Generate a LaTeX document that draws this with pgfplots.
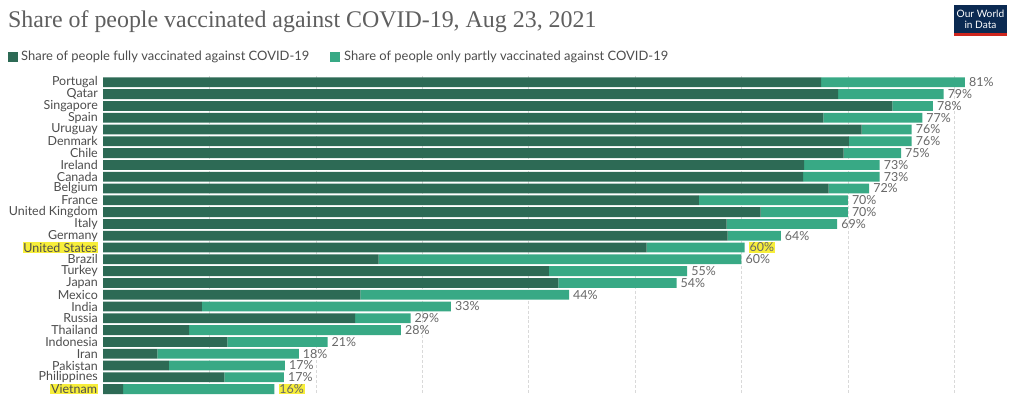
\documentclass[border=0pt]{standalone}
\usepackage{pgfplots}
\pgfplotsset{compat=1.18}
\usepackage{fontspec}
\setmainfont{Lato}
\newfontfamily\titlefont{Liberation Serif}
\definecolor{fullc}{HTML}{2D6A55}
\definecolor{partc}{HTML}{38A985}
\definecolor{txt}{HTML}{4D4D4D}
\definecolor{hly}{HTML}{F7EE3A}
\definecolor{owidblue}{HTML}{0B2A52}
\definecolor{owidred}{HTML}{CE261E}
\newcommand{\hl}[1]{{\setlength{\fboxsep}{0.8pt}\colorbox{hly}{#1}}}
\pgfplotsset{base/.style={
  at={(103bp,2bp)}, anchor=south west,
  scale only axis, width=904.4bp, height=318.6bp,
  xmin=0, xmax=85, ymin=-0.5, ymax=26.5, y dir=reverse, clip=false}}
\begin{document}
\begin{tikzpicture}[x=1bp,y=1bp]
\useasboundingbox (0,0) rectangle (1018,397);
\fill[white] (0,0) rectangle (1018,397);
% title
\node[anchor=base west, inner sep=0, text=txt!90] at (8,370) {\titlefont\fontsize{24}{26}\selectfont Share of people vaccinated against COVID-19, Aug 23, 2021};
% logo
\fill[owidred] (954,361) rectangle (1007,364);
\fill[owidblue] (954,364) rectangle (1007,392);
\node[text=white, inner sep=0, align=center, font=\fontsize{10.2}{11}\selectfont] at (980.5,378) {Our World\\in Data};
% legend
\fill[fullc] (8,335) rectangle (18,345);
\node[anchor=west, inner sep=0, text=txt, font=\fontsize{13}{15}\selectfont] at (21,340) {Share of people fully vaccinated against COVID-19};
\fill[partc] (330,335) rectangle (340,345);
\node[anchor=west, inner sep=0, text=txt, font=\fontsize{13}{15}\selectfont] at (344,340) {Share of people only partly vaccinated against COVID-19};
\begin{axis}[base,
  xbar stacked, bar width=9.8bp,
  axis line style={draw=none},
  xtick={10,20,...,80}, xticklabels={},
  xmajorgrids, grid style={densely dashed, black!15},
  major tick length=0pt,
  ytick={0,...,26},
  yticklabels={Portugal,Qatar,Singapore,Spain,Uruguay,Denmark,Chile,Ireland,Canada,Belgium,France,United Kingdom,Italy,Germany,\hl{United States},Brazil,Turkey,Japan,Mexico,India,Russia,Thailand,Indonesia,Iran,Pakistan,Philippines,\hl{Vietnam}},
  yticklabel style={text=txt, font=\fontsize{12.5}{13}\selectfont, inner sep=0pt, xshift=-5bp},
]
\addplot[fill=fullc, draw=none] coordinates {
(67.5,0) (69.1,1) (74.2,2) (67.7,3) (71.3,4) (70.1,5) (69.6,6) (65.9,7) (65.8,8) (68.2,9)
(56.0,10) (61.8,11) (58.6,12) (58.7,13) (51.1,14) (25.9,15) (41.9,16) (42.8,17) (24.2,18)
(9.3,19) (23.7,20) (8.1,21) (11.7,22) (5.1,23) (6.2,24) (11.4,25) (1.9,26)};
\addplot[fill=partc, draw=none] coordinates {
(13.5,0) (9.9,1) (3.8,2) (9.3,3) (4.7,4) (5.9,5)
(5.4,6) (7.1,7) (7.2,8) (3.8,9) (14.0,10) (8.2,11)
(10.4,12) (5.0,13) (9.2,14) (34.1,15) (13.0,16)
(11.1,17) (19.6,18) (23.4,19) (5.2,20) (19.9,21)
(9.4,22) (13.3,23) (10.9,24) (5.6,25) (14.2,26)};
\end{axis}
\begin{axis}[base, hide axis]
\addplot[draw=none, mark=none, nodes near coords, point meta=explicit symbolic,
  nodes near coords style={anchor=west, text=txt!85, font=\fontsize{12.5}{13}\selectfont, inner sep=0pt, xshift=4bp}] coordinates {
(81.0,0) [81\%] (79.0,1) [79\%] (78.0,2) [78\%] (77.0,3) [77\%] (76.0,4) [76\%] (76.0,5) [76\%]
(75.0,6) [75\%] (73.0,7) [73\%] (73.0,8) [73\%] (72.0,9) [72\%] (70.0,10) [70\%] (70.0,11) [70\%]
(69.0,12) [69\%] (63.7,13) [64\%] (60.3,14) [\hl{60\%}] (60.0,15) [60\%] (54.9,16) [55\%]
(53.9,17) [54\%] (43.8,18) [44\%] (32.7,19) [33\%] (28.9,20) [29\%] (28.0,21) [28\%]
(21.1,22) [21\%] (18.4,23) [18\%] (17.1,24) [17\%] (17.0,25) [17\%] (16.1,26) [\hl{16\%}]};
\end{axis}
\end{tikzpicture}
\end{document}
